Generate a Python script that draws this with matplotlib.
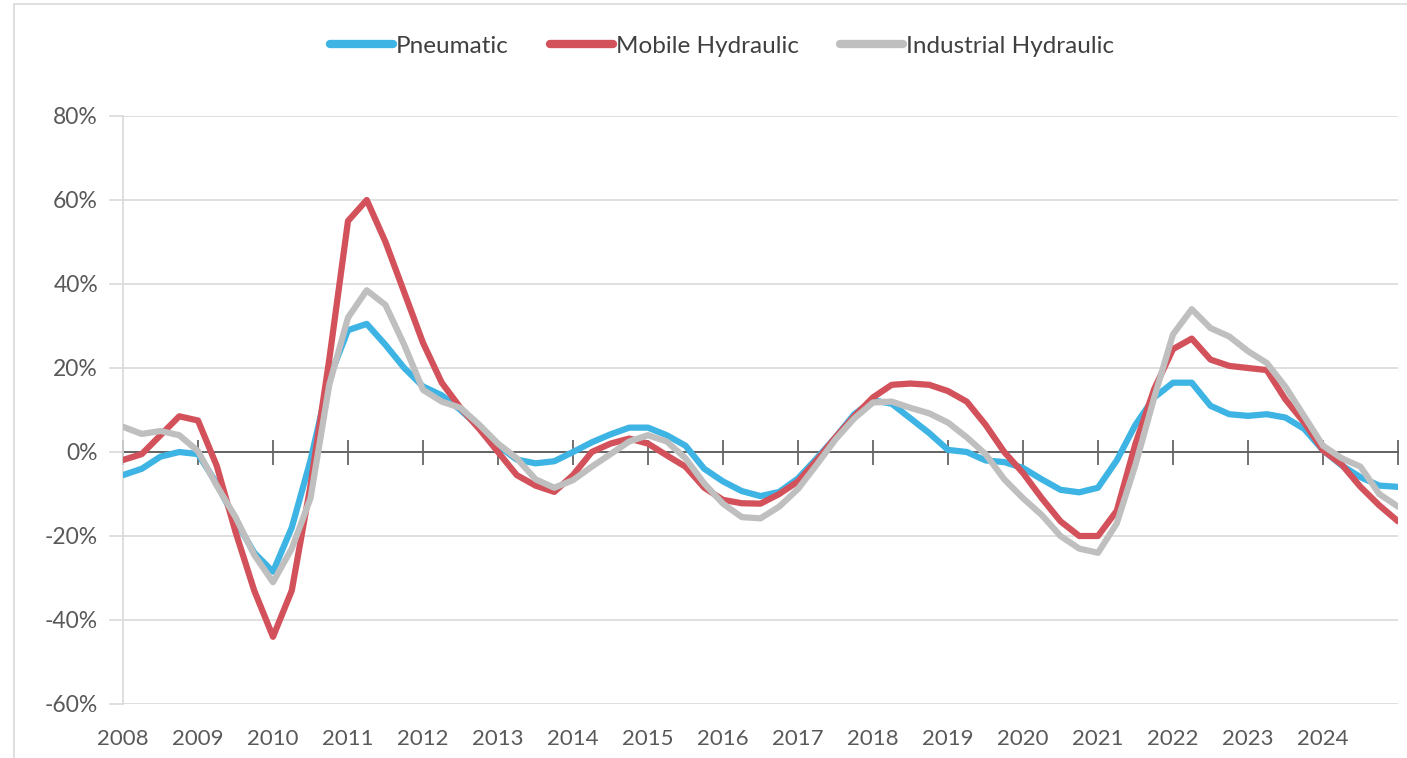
import numpy as np
import matplotlib
matplotlib.use("Agg")
import matplotlib.pyplot as plt
from matplotlib.patches import Rectangle

# ---------------- data (quarterly, 2008Q1 .. 2025Q1 boundary) ----------------
quarters = [2008 + k / 4 for k in range(69)]

pneumatic = [
    -5.5, -4.0, -1.1, 0.0, -0.5, -7.5, -16.3, -24.0, -28.5, -18.0, -2.0, 17.5,
    29.0, 30.5, 25.5, 20.0, 15.6, 13.5, 10.0, 6.0, 1.5, -1.8, -2.7, -2.2,
    0.0, 2.3, 4.2, 5.8, 5.8, 4.0, 1.5, -4.0, -7.0, -9.3, -10.5, -9.5,
    -6.3, -1.5, 3.5, 9.0, 12.3, 11.5, 8.0, 4.5, 0.5, 0.0, -2.0, -2.4,
    -3.8, -6.5, -9.0, -9.6, -8.5, -2.0, 6.5, 13.0, 16.5, 16.5, 11.0, 9.0,
    8.6, 9.0, 8.2, 5.5, 0.4, -3.2, -6.0, -8.0, -8.3,
]

mobile_hydraulic = [
    -1.9, -0.5, 4.0, 8.5, 7.5, -3.3, -19.0, -33.0, -44.0, -33.0, -8.0, 22.0,
    55.0, 60.0, 50.0, 38.0, 26.0, 16.5, 10.5, 5.5, 0.0, -5.5, -8.0, -9.5,
    -5.5, 0.0, 2.0, 3.2, 2.0, -0.8, -3.5, -8.5, -11.4, -12.2, -12.3, -10.0,
    -7.0, -2.0, 3.5, 8.5, 13.0, 16.0, 16.3, 16.0, 14.5, 12.0, 6.5, 0.0,
    -5.0, -11.0, -16.5, -20.0, -20.0, -14.0, 2.0, 15.0, 24.5, 27.0, 22.0, 20.5,
    20.0, 19.5, 12.5, 7.0, 0.4, -3.0, -8.3, -12.7, -16.5,
]

industrial_hydraulic = [
    6.0, 4.3, 5.0, 4.0, 0.2, -8.0, -15.5, -24.5, -31.0, -23.0, -11.0, 16.0,
    32.0, 38.5, 35.0, 25.5, 14.8, 12.0, 10.5, 6.5, 2.0, -1.5, -6.5, -8.5,
    -6.7, -3.5, -0.5, 2.5, 4.0, 2.5, -1.5, -7.5, -12.3, -15.5, -15.8, -13.0,
    -8.8, -3.0, 3.0, 8.0, 11.8, 12.0, 10.5, 9.2, 7.0, 3.5, -0.5, -6.5,
    -11.0, -15.0, -20.0, -23.0, -24.0, -17.0, -3.0, 13.0, 28.0, 34.0, 29.5, 27.5,
    24.0, 21.2, 15.5, 8.5, 1.5, -1.5, -3.5, -10.0, -13.0,
]

series_names = ["Pneumatic", "Mobile Hydraulic", "Industrial Hydraulic"]
series_colors = ["#3DB4E4", "#D3515A", "#BFBFBF"]

year_ticks = list(range(2008, 2026))
year_labels = [str(y) for y in range(2008, 2025)]
y_ticks = [-60, -40, -20, 0, 20, 40, 60, 80]
y_labels = [f"{v}%" for v in y_ticks]

# ---------------- figure ----------------
plt.rcParams["font.family"] = ["Lato", "DejaVu Sans"]
W, H = 1407, 758
fig = plt.figure(figsize=(W / 100, H / 100), dpi=100)
fig.patch.set_facecolor("white")

# outer chart-area border
fig.add_artist(Rectangle((14 / W, -0.02), 1.05, 1 - 4 / H + 0.02,
                         transform=fig.transFigure, fill=False,
                         edgecolor="#D9D9D9", lw=1.2))

ax = fig.add_axes([123 / W, 1 - 704 / H, (1398 - 123) / W, (704 - 116) / H])
ax.set_xlim(2008, 2025)
ax.set_ylim(-60, 80)

# grid + spines
ax.set_yticks(y_ticks)
ax.set_yticklabels(y_labels)
ax.yaxis.grid(True, color="#D9D9D9", lw=1.2)
ax.set_axisbelow(True)
for s in ["top", "right"]:
    ax.spines[s].set_visible(False)
ax.spines["left"].set_color("#D9D9D9")
ax.spines["left"].set_linewidth(1.2)
ax.spines["bottom"].set_position(("data", 0))
ax.spines["bottom"].set_color("#595959")
ax.spines["bottom"].set_linewidth(1.3)
ax.spines["bottom"].set_zorder(1.5)

ax.tick_params(axis="y", length=10, width=1.2, color="#D9D9D9",
               labelcolor="#595959", labelsize=16.5, pad=8)
ax.set_xticks(year_ticks)
ax.tick_params(axis="x", direction="inout", length=18, width=1.2,
               color="#595959", labelbottom=False)

# year labels at the bottom
sec = ax.secondary_xaxis("bottom")
sec.set_xticks(year_ticks[:-1])
sec.set_xticklabels(year_labels)
sec.spines["bottom"].set_visible(False)
sec.tick_params(axis="x", length=0, labelsize=16, labelcolor="#595959", pad=18)

# series
for vals, name, col in zip([pneumatic, mobile_hydraulic, industrial_hydraulic],
                           series_names, series_colors):
    ax.plot(quarters, vals, color=col, lw=4.5, label=name,
            solid_capstyle="round", solid_joinstyle="round", zorder=3)

leg = fig.legend(loc="center", bbox_to_anchor=(722 / W, 1 - 46 / H), ncol=3,
                 frameon=False, fontsize=17.5, handlelength=2.6,
                 handletextpad=0.1, columnspacing=1.7, labelcolor="#404040")
for h in leg.get_lines():
    h.set_linewidth(6)
    h.set_solid_capstyle("round")

fig.savefig("out.png", dpi=100, facecolor="white")
